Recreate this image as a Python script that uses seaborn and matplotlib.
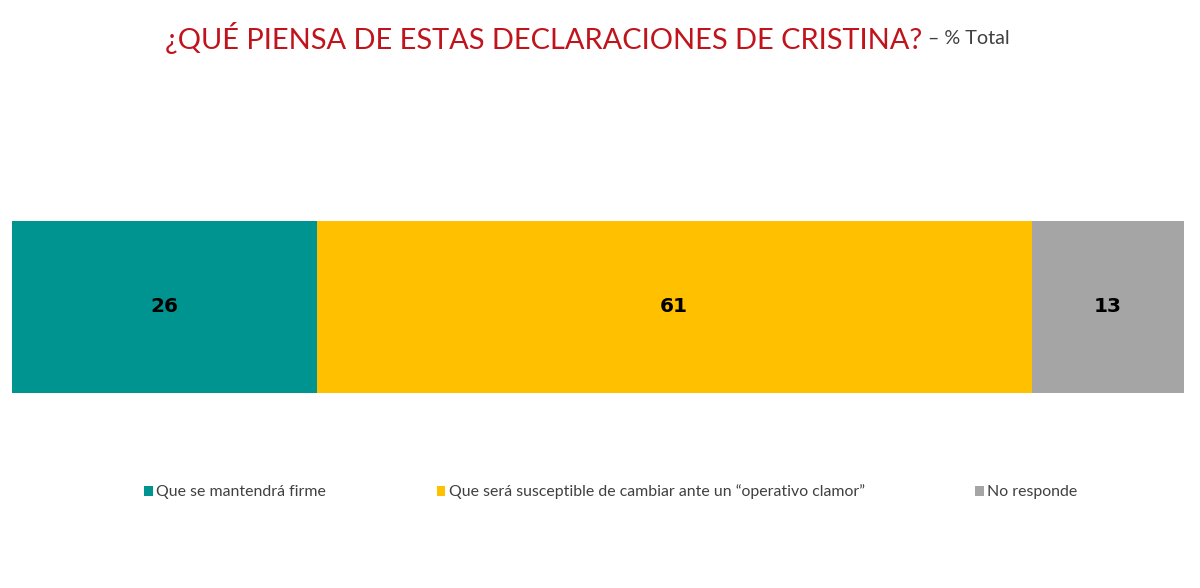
import matplotlib
matplotlib.use("Agg")
import matplotlib.pyplot as plt
import seaborn as sns
import numpy as np
import pandas as pd
from matplotlib.patches import Patch

# data
categories = ["Que se mantendrá firme",
              "Que será susceptible de cambiar ante un \u201coperativo clamor\u201d",
              "No responde"]
values = [26, 61, 13]
colors = ["#009490", "#FFC000", "#A5A5A5"]
title = "¿QUÉ PIENSA DE ESTAS DECLARACIONES DE CRISTINA?"
subtitle = "– % Total"

sns.set_theme(style="white")
plt.rcParams["font.family"] = ["Lato", "DejaVu Sans"]

fig = plt.figure(figsize=(12, 5.88), dpi=100)
ax = fig.add_axes([0.01, 0.332, 0.9767, 0.293])

cum = np.cumsum(values)
df = pd.DataFrame({"row": ["Total"] * 3, "cum": cum, "cat": categories})

# stacked bar: draw the longest cumulative first
for i in reversed(range(len(values))):
    sns.barplot(data=df.iloc[[i]], x="cum", y="row", orient="h",
                color=colors[i], width=1.0, saturation=1, linewidth=0, ax=ax)

for c, v in zip(cum, values):
    ax.text(c - v / 2, 0, str(v), ha="center", va="center",
            fontsize=14.5, fontweight="bold", color="black", family="DejaVu Sans")

ax.set_xlim(0, 100)
ax.set_ylim(0.5, -0.5)
ax.axis("off")


def fit_text(x, y, s, width_px, size, **kw):
    t = fig.text(x, y, s, fontsize=size, ha="left", va="center", **kw)
    fig.canvas.draw()
    w = t.get_window_extent().width
    t.set_fontsize(size * width_px / w)
    fig.canvas.draw()
    return t


t1 = fit_text(165 / 1200, 1 - 38 / 588, title, 757, 20, color="#C0141C")
t2 = fit_text(928 / 1200, 1 - 39 / 588, subtitle, 82, 12, color="#404040")

handles = [Patch(facecolor=c, edgecolor="none") for c in colors]
fig.legend(handles, categories, loc="center", bbox_to_anchor=(0.509, 1 - 492 / 588),
           ncol=3, frameon=False, fontsize=11.4, handlelength=0.55, handleheight=0.6,
           handletextpad=0.2, columnspacing=7.0, labelcolor="#404040")

fig.savefig("out.png", dpi=100)
